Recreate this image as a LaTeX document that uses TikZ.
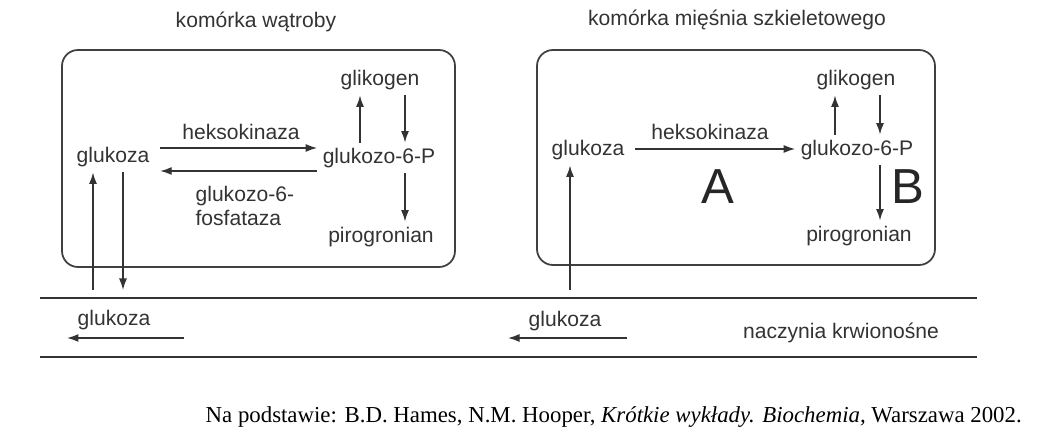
\documentclass[tikz,border=0pt]{standalone}
\usepackage{fontspec}
\setmainfont{Liberation Serif}
\newfontfamily\arialfont{Liberation Sans}
\usetikzlibrary{arrows.meta,positioning}

\tikzset{
  lbl/.style={font=\arialfont\fontsize{12}{14}\selectfont, text=black!80, inner sep=3pt},
  big/.style={font=\arialfont\fontsize{28}{32}\selectfont, text=black!85, inner sep=0pt},
  arr/.style={-{Latex[length=2.3mm,width=1.6mm]}, line width=0.8pt, draw=black!80},
  cell/.style={rounded corners=0.32cm, line width=1pt, draw=black!75},
  vessel/.style={line width=1.3pt, draw=black!80},
}

\begin{document}
\begin{tikzpicture}[x=0.02cm,y=-0.02cm]
\useasboundingbox (0,0) rectangle (1039,445);
% komorka watroby
\node[lbl](t1)at(256,22){komórka wątroby};
\draw[cell](62,50)rectangle(455,267);
\node[lbl](glu1)at(113,157){glukoza};
\node[lbl](g6p1)at(379,158){glukozo-6-P};
\node[lbl](gly1)at(380,80){glikogen};
\node[lbl](pir1)at(381,237){pirogronian};
\node[lbl](hk1)at(241,132){heksokinaza};
\node[lbl,align=left,anchor=west](g6f)at(190,206){glukozo-6-\\fosfataza};
\draw[arr]([xshift=3pt]glu1.east |- 0,148)--(g6p1.west |- 0,148);
\draw[arr](g6p1.west |- 0,171)--([xshift=3pt]glu1.east |- 0,171);
\draw[arr](360,0 |- g6p1.north)--(360,0 |- gly1.south);
\draw[arr](405,0 |- gly1.south)--(405,0 |- g6p1.north);
\draw[arr](405,0 |- g6p1.south)--(405,0 |- pir1.north);
% komorka miesnia
\node[lbl](t2)at(737,20){komórka mięśnia szkieletowego};
\draw[cell](537,50)rectangle(935,265);
\node[lbl](glu2)at(588,150){glukoza};
\node[lbl](g6p2)at(857,150){glukozo-6-P};
\node[lbl](gly2)at(856,80){glikogen};
\node[lbl](pir2)at(859,236){pirogronian};
\node[lbl](hk2)at(710,132){heksokinaza};
\node[big](a)at(718,187){A};
\node[big](b)at(908,187){B};
\draw[arr]([xshift=3pt]glu2.east |- 0,149)--(g6p2.west |- 0,149);
\draw[arr](835,0 |- g6p2.north)--(835,0 |- gly2.south);
\draw[arr](880,0 |- gly2.south)--(880,0 |- g6p2.north);
\draw[arr](880,0 |- g6p2.south)--(880,0 |- pir2.north);
% naczynia krwionosne
\coordinate(v1)at(40,298);
\coordinate(v2)at(977,298);
\coordinate(v3)at(40,357);
\coordinate(v4)at(977,357);
\draw[vessel](v1)--(v2);
\draw[vessel](v3)--(v4);
\coordinate(in1)at(93,290);
\coordinate(out1)at(123,290);
\coordinate(in2)at(570,290);
\draw[arr](in1)--(in1 |- glu1.south);
\draw[arr](out1 |- glu1.south)--(out1);
\draw[arr](in2)--(in2 |- glu2.south);
\node[lbl](glu3)at(114,320){glukoza};
\node[lbl](glu4)at(565,321){glukoza};
\node[lbl](nk)at(841,333){naczynia krwionośne};
\coordinate(f1)at(184,338);
\coordinate(f2)at(67,338);
\coordinate(f3)at(627,338);
\coordinate(f4)at(508,338);
\draw[arr](f1)--(f2);
\draw[arr](f3)--(f4);
% zrodlo
\node[font=\fontsize{13}{15}\selectfont,anchor=east](src)at(1028,417){Na podstawie: B.D. Hames, N.M. Hooper, \textit{Krótkie wykłady. Biochemia,} Warszawa 2002.};
\end{tikzpicture}
\end{document}
